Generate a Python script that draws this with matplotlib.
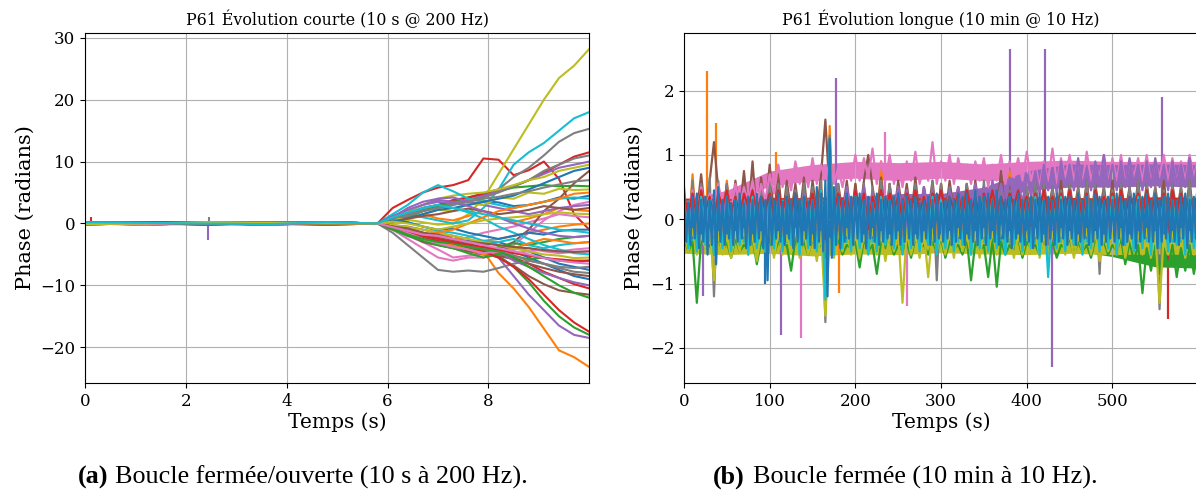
import numpy as np
import matplotlib.pyplot as plt

plt.rcParams['font.family'] = 'DejaVu Serif'

# (a) short run, 10 s @ 200 Hz : phase read at a few instants (s)
T_SHORT = [0, 1.2, 2.4, 3.6, 4.8, 5.8, 6.1, 6.4, 6.7, 7.0, 7.3, 7.6, 7.9,
           8.2, 8.5, 8.8, 9.1, 9.4, 9.7, 10.0]

PHASE_SHORT = [
    [0.1, -0.2, 0.1, 0.2, -0.1, 0, 0.5, 1.2, 2.0, 2.8, 3.2, 3.0, 3.6, 3.4, 2.8, 3.0, 3.5, 4.2, 4.0, 4.5],
    [-0.1, 0.2, 0.0, -0.2, 0.1, 0, -0.5, -1.0, -1.8, -2.2, -2.0, -3.0, -4.5, -8.0, -10.5, -13.5, -17.0, -20.5, -21.6, -23.2],
    [0.2, 0.0, -0.2, 0.1, 0.2, 0, -0.8, -1.5, -2.2, -3.0, -3.5, -3.2, -4.0, -5.2, -7.0, -9.5, -12.5, -15.0, -16.8, -18.0],
    [0.0, 0.2, 0.1, -0.1, 0.2, 0, 2.5, 3.8, 5.0, 5.8, 6.2, 7.0, 10.5, 10.3, 7.8, 8.6, 10.0, 7.2, 1.5, -1.0],
    [-0.2, 0.1, 0.2, 0.0, -0.1, 0, -0.4, -1.2, -1.8, -2.0, -2.6, -3.5, -4.0, -5.5, -8.5, -11.5, -14.0, -16.5, -18.0, -18.5],
    [0.1, 0.0, -0.1, 0.2, 0.0, 0, -0.6, -1.4, -2.0, -2.8, -3.6, -4.0, -4.8, -5.5, -6.8, -8.5, -9.8, -10.8, -11.2, -11.5],
    [0.2, -0.1, 0.0, 0.1, 0.2, 0, -0.5, -1.5, -2.0, -2.8, -3.0, -2.2, -1.5, -1.0, -0.5, 0.2, 0.8, 1.5, 1.2, 1.0],
    [-0.1, 0.1, 0.2, -0.1, 0.0, 0, 0.6, 1.5, 2.2, 2.5, 3.0, 3.8, 4.5, 5.5, 7.5, 9.0, 11.0, 13.2, 14.6, 15.3],
    [0.0, -0.2, 0.1, 0.2, -0.1, 0, 0.3, 0.6, 0.2, -0.2, 0.0, 1.5, 4.0, 8.0, 12.0, 16.0, 20.0, 23.5, 25.5, 28.2],
    [0.1, 0.2, -0.1, 0.0, 0.2, 0, 0.8, 1.5, 1.0, 0.5, 0.0, 0.5, 2.5, 5.5, 9.5, 11.5, 13.0, 15.0, 17.0, 18.0],

    [0.2, 0.0, 0.1, -0.2, 0.1, 0, -0.3, -0.8, -1.5, -2.2, -2.5, -3.0, -3.4, -3.0, -3.8, -4.5, -5.5, -6.5, -7.0, -7.5],
    [-0.1, 0.1, -0.2, 0.1, 0.0, 0, 0.5, 0.8, 1.5, 0.8, 0.5, 1.2, 2.0, 1.0, 0.2, 0.8, 1.5, 2.5, 2.2, 2.0],
    [0.0, 0.2, 0.1, 0.0, -0.2, 0, 0.3, 1.0, 2.0, 2.8, 3.5, 4.2, 4.8, 5.2, 5.8, 6.0, 6.2, 6.0, 6.1, 6.0],
    [0.2, -0.1, 0.0, 0.2, 0.1, 0, 0.5, 1.5, 2.5, 3.0, 3.8, 4.2, 4.8, 5.5, 6.0, 7.0, 8.2, 9.5, 10.8, 11.5],
    [-0.1, 0.0, 0.2, 0.1, -0.2, 0, 1.0, 2.0, 3.0, 3.5, 3.2, 3.8, 4.5, 5.2, 6.0, 7.0, 8.0, 9.0, 9.5, 10.0],
    [0.1, 0.2, -0.1, -0.2, 0.1, 0, -0.5, -1.0, -1.5, -2.2, -2.8, -3.5, -4.5, -4.0, -3.0, -1.0, 2.0, 4.0, 6.5, 8.5],
    [0.0, -0.1, 0.2, 0.1, 0.0, 0, -1.0, -2.0, -3.0, -4.2, -5.5, -5.2, -5.0, -5.0, -3.5, -1.5, 0.5, 2.0, 3.0, 3.5],
    [0.2, 0.1, 0.0, -0.1, 0.2, 0, 0.5, 1.2, 2.0, 2.5, 3.2, 3.8, 4.2, 5.0, 6.0, 7.0, 8.5, 9.5, 10.5, 11.0],
    [-0.2, 0.1, 0.1, 0.2, 0.0, 0, 0.8, 2.0, 3.0, 4.0, 4.5, 4.8, 5.0, 5.5, 6.2, 7.0, 7.5, 8.5, 9.0, 9.5],
    [0.1, -0.1, 0.0, 0.2, 0.1, 0, 1.5, 3.0, 5.0, 6.2, 5.2, 4.0, 3.5, 3.0, 2.5, 3.0, 3.5, 4.0, 4.2, 4.0],

    [0.0, 0.1, -0.2, 0.2, 0.1, 0, -0.5, -1.5, -2.5, -3.0, -3.2, -2.8, -3.0, -3.5, -4.5, -5.5, -6.5, -7.5, -8.5, -9.0],
    [0.1, 0.0, 0.2, -0.1, -0.1, 0, -0.2, -0.8, -1.5, -2.0, -2.5, -3.0, -2.8, -2.5, -2.0, -1.5, -1.0, -0.5, -0.2, 0.0],
    [-0.2, 0.2, 0.0, 0.1, 0.2, 0, -0.5, -1.2, -2.0, -3.0, -3.5, -4.0, -4.5, -3.8, -3.2, -3.5, -3.0, -2.5, -2.2, -2.0],
    [0.1, -0.2, 0.1, 0.0, 0.2, 0, -0.4, -1.0, -1.8, -2.5, -3.0, -3.5, -4.2, -4.8, -5.5, -6.5, -7.8, -8.8, -9.8, -10.5],
    [0.2, 0.1, -0.1, 0.2, 0.0, 0, 1.0, 2.5, 3.5, 4.0, 4.2, 3.5, 3.0, 2.5, 2.0, 1.5, 2.0, 2.5, 2.8, 3.0],
    [0.0, 0.2, 0.1, -0.2, 0.1, 0, -0.8, -1.8, -3.0, -3.5, -4.0, -4.5, -5.0, -5.2, -5.8, -6.5, -7.2, -7.8, -8.2, -8.5],
    [-0.1, 0.0, 0.2, 0.1, -0.1, 0, -1.0, -2.5, -4.0, -5.5, -6.0, -5.5, -5.5, -5.0, -4.8, -4.5, -4.2, -4.5, -4.2, -4.0],
    [0.2, 0.1, 0.0, 0.2, 0.1, 0, -1.5, -3.5, -5.5, -7.5, -7.8, -7.6, -7.8, -7.2, -6.5, -6.0, -6.5, -7.0, -7.2, -7.0],
    [0.0, -0.1, 0.1, 0.0, 0.2, 0, 0.8, 0.6, 1.5, 2.2, 2.0, 3.2, 3.0, 4.2, 4.0, 5.0, 4.8, 5.6, 5.4, 5.5],
    [0.1, 0.2, 0.0, -0.1, 0.1, 0, 0.5, 0.2, -0.5, -1.2, -1.5, -2.0, -2.8, -3.0, -2.5, -3.5, -4.0, -3.5, -3.2, -3.0],

    [0.2, 0.0, -0.1, 0.1, 0.2, 0, 0.2, 0.8, 1.5, 2.2, 2.5, 3.0, 3.5, 4.0, 4.5, 5.5, 6.5, 7.5, 8.5, 9.0],
    [0.0, 0.1, 0.2, -0.2, 0.0, 0, -0.6, -1.2, -2.2, -3.0, -3.5, -4.2, -5.0, -4.5, -4.0, -3.2, -2.5, -2.8, -3.2, -3.0],
    [0.1, -0.2, 0.0, 0.2, 0.1, 0, -1.0, -2.0, -2.8, -3.5, -4.0, -4.8, -5.5, -5.0, -5.2, -5.8, -5.5, -6.0, -6.2, -6.0],
    [-0.1, 0.1, 0.2, 0.0, -0.2, 0, -0.8, -1.5, -2.2, -2.8, -3.2, -3.8, -4.5, -5.5, -7.0, -9.0, -11.5, -14.0, -16.0, -17.5],
    [0.2, 0.0, 0.1, 0.1, 0.0, 0, -0.3, -0.5, -1.0, -1.5, -2.0, -2.5, -3.5, -4.5, -6.0, -7.0, -8.0, -8.8, -9.5, -10.0],
    [0.0, 0.2, -0.2, 0.1, 0.2, 0, 0.3, 0.8, 1.2, 1.5, 2.0, 2.4, 2.0, 1.5, 1.8, 2.2, 2.8, 2.5, 2.2, 2.5],
    [0.1, 0.0, 0.1, -0.1, 0.1, 0, -0.5, -1.5, -2.5, -3.2, -3.8, -4.2, -4.8, -4.5, -4.2, -4.0, -4.5, -4.8, -4.6, -4.5],
    [-0.2, 0.1, 0.0, 0.2, 0.0, 0, -0.5, -1.2, -2.0, -2.5, -3.0, -3.5, -4.0, -4.5, -5.2, -6.0, -6.5, -7.2, -7.8, -8.0],
    [0.1, 0.2, 0.1, 0.0, -0.1, 0, -0.2, -0.6, -1.0, -1.5, -2.0, -2.5, -3.0, -3.5, -4.0, -4.5, -5.0, -5.2, -5.6, -5.5],
    [0.0, -0.1, 0.2, 0.1, 0.2, 0, 0.8, 1.5, 2.5, 3.0, 2.5, 1.8, 0.8, -0.5, -1.5, -2.5, -3.5, -4.2, -4.8, -5.0],

    [0.1, 0.2, 0.0, -0.1, 0.1, 0, 0.5, 0.2, -0.5, -1.0, -0.8, -1.5, -2.0, -2.5, -2.0, -1.5, -1.8, -1.2, -1.0, -1.0],
    [0.2, -0.1, 0.1, 0.2, 0.0, 0, -0.5, -1.0, -1.8, -1.5, -1.0, 0.0, 1.0, 2.0, 2.5, 3.0, 3.5, 4.0, 4.8, 5.0],
    [0.0, 0.1, -0.1, 0.0, 0.2, 0, -0.8, -1.8, -2.5, -3.0, -3.2, -3.8, -4.2, -4.5, -5.5, -7.0, -8.5, -10.0, -11.2, -12.0],
    [-0.1, 0.2, 0.2, 0.1, 0.0, 0, -0.5, -1.2, -2.0, -2.5, -3.0, -3.4, -3.8, -4.2, -4.8, -5.2, -5.6, -5.8, -6.0, -6.0],
    [0.1, 0.0, 0.1, -0.2, 0.1, 0, 1.2, 2.2, 3.0, 3.8, 3.5, 2.8, 2.0, 1.0, 0.0, -0.8, -1.5, -2.0, -2.2, -2.0],
    [0.2, 0.1, 0.0, 0.2, -0.1, 0, -0.5, -0.8, -1.5, -1.8, -2.5, -3.0, -3.2, -3.5, -3.8, -4.0, -4.3, -4.5, -4.6, -4.5],
    [0.0, -0.2, 0.2, 0.0, 0.1, 0, -0.6, -1.2, -1.8, -2.0, -2.5, -3.0, -3.5, -4.0, -4.5, -5.0, -5.6, -6.0, -6.3, -6.5],
    [0.1, 0.1, -0.1, 0.2, 0.2, 0, 0.8, 1.5, 2.0, 2.5, 3.0, 3.5, 4.0, 4.3, 4.8, 5.2, 5.8, 6.3, 6.8, 7.0],
    [-0.1, 0.0, 0.2, 0.1, 0.0, 0, 0.3, 0.0, -0.5, -1.0, -0.5, 0.0, 0.5, 0.8, 1.0, 1.2, 1.5, 1.8, 1.6, 1.5],
    [0.2, 0.1, 0.0, -0.1, 0.2, 0, 1.0, 1.8, 2.5, 3.0, 2.5, 2.0, 1.5, 1.0, 0.5, 0.0, -0.5, -1.0, -1.2, -1.5],
]

# single-sample glitches in the short run
SHORT_SPIKE_T = [0.12, 2.44, 2.46]
SHORT_SPIKE_V = [1.0, -2.7, 1.0]
SHORT_SPIKE_COLORS = ['tab:red', 'tab:purple', 'tab:gray']

# (b) long run, 10 min @ 10 Hz : alternating max / min every 5 s (blue every 2.5 s)
LONG_BLUE = [
    0.30, -0.35, 0.25, -0.40, 0.35, -0.30, 0.40, -0.45, 0.30, -0.35, 0.35, -0.55, 0.30, -0.40, 0.45, -0.70, 0.50, -0.35, 0.30, -0.40,
    0.35, -0.30, 0.25, -0.40, 0.30, -0.35, 0.40, -0.30, 0.25, -0.45, 0.35, -0.40, 0.30, -0.35, 0.40, -0.30, 0.35, -0.45, 0.30, -0.95,
    0.35, -0.40, 0.30, -0.30, 0.40, -0.35, 0.25, -0.40, 0.35, -0.30, 0.30, -0.45, 0.40, -0.35, 0.30, -0.40, 0.35, -0.30, 0.25, -0.40,
    0.30, -0.45, 0.50, -0.35, 0.40, -0.50, 0.60, -1.20, 1.25, -0.60, 0.50, -0.40, 0.35, -0.45, 0.30, -0.35, 0.40, -0.30, 0.35, -0.40,
    0.35, -0.30, 0.40, -0.35, 0.30, -0.45, 0.35, -0.30, 0.25, -0.35, 0.40, -0.40, 0.30, -0.35, 0.35, -0.30, 0.30, -0.40, 0.35, -0.30,
    0.40, -0.40, 0.30, -0.35, 0.35, -0.30, 0.30, -0.40, 0.35, -0.30, 0.25, -0.35, 0.30, -0.30, 0.35, -0.40, 0.30, -0.35, 0.40, -0.30,
    0.25, -0.35, 0.30, -0.30, 0.35, -0.40, 0.30, -0.35, 0.40, -0.30, 0.35, -0.40, 0.40, -0.30, 0.30, -0.35, 0.45, -0.40, 0.35, -0.30,
    0.35, -0.40, 0.40, -0.30, 0.30, -0.35, 0.45, -0.40, 0.35, -0.30, 0.30, -0.35, 0.35, -0.45, 0.30, -0.30, 0.40, -0.35, 0.30, -0.40,
    0.30, -0.35, 0.35, -0.45, 0.30, -0.30, 0.40, -0.35, 0.30, -0.40, 0.35, -0.30, 0.30, -0.40, 0.40, -0.35, 0.30, -0.30, 0.35, -0.40,
    0.35, -0.30, 0.30, -0.40, 0.40, -0.35, 0.30, -0.30, 0.35, -0.40, 0.30, -0.35, 0.40, -0.30, 0.35, -0.40, 0.30, -0.35, 0.35, -0.30,
    0.30, -0.35, 0.40, -0.30, 0.35, -0.40, 0.30, -0.35, 0.35, -0.30, 0.40, -0.45, 0.30, -0.35, 0.35, -0.30, 0.40, -0.35, 0.30, -0.35,
    0.40, -0.45, 0.30, -0.35, 0.35, -0.30, 0.40, -0.35, 0.30, -0.35, 0.30, -0.40, 0.35, -0.30, 0.40, -0.45, 0.30, -0.35, 0.35, -0.30,
    0.30,
]
LONG_ORANGE = [
    0.45, -0.30, 0.70, -0.35, 0.55, -0.30, 0.40, -0.25, 0.50, -0.30,
    0.60, -0.35, 0.45, -0.30, 0.55, -0.40, 0.50, -0.30, 0.45, -0.35,
    0.55, -0.30, 0.40, -0.35, 0.50, -0.25, 0.45, -0.30, 0.55, -0.40,
    0.45, -0.30, 0.60, -1.40, 1.45, -0.35, 0.50, -0.30, 0.45, -0.35,
    0.55, -0.30, 0.50, -0.35, 0.45, -0.40, 0.90, -0.30, 0.55, -0.35,
    0.45, -0.30, 0.50, -0.35, 0.55, -0.30, 0.45, -0.40, 0.50, -0.30,
    0.55, -0.35, 0.45, -0.30, 0.50, -0.35, 0.55, -0.30, 0.45, -0.40,
    0.50, -0.30, 0.55, -0.35, 0.45, -0.30, 0.75, -0.35, 0.50, -0.30,
    0.45, -0.35, 0.55, -0.30, 0.50, -0.40, 0.45, -0.30, 0.55, -0.35,
    0.50, -0.30, 0.45, -0.35, 0.55, -0.30, 0.50, -0.40, 0.45, -0.30,
    0.55, -0.35, 0.50, -0.30, 0.45, -0.35, 0.55, -0.30, 0.50, -0.40,
    0.45, -0.30, 0.55, -0.35, 0.50, -0.30, 0.45, -0.40, 0.55, -0.30, 0.50,
]
LONG_GREEN = [
    -0.30, -0.50, -0.35, -1.30, -0.30, -0.45, -0.40, -0.55, -0.30, -0.50,
    -0.35, -0.60, -0.30, -0.50, -0.40, -0.45, -0.30, -0.70, -0.35, -0.50,
    -0.30, -0.55, -0.35, -0.45, -0.40, -0.80, -0.30, -0.50, -0.35, -0.55,
    -0.30, -0.45, -0.40, -0.60, -0.35, -0.50, -0.30, -0.55, -0.40, -0.45,
    -0.35, -0.75, -0.30, -0.50, -0.40, -0.85, -0.35, -0.45, -0.30, -0.55,
    -0.40, -0.50, -0.35, -0.60, -0.30, -0.45, -0.40, -0.55, -0.35, -0.50,
    -0.30, -0.60, -0.35, -0.45, -0.40, -0.55, -0.30, -0.95, -0.35, -0.50,
    -0.40, -0.90, -0.30, -1.05, -0.35, -0.55, -0.40, -0.50, -0.30, -0.60,
    -0.35, -0.45, -0.40, -0.55, -0.30, -0.50, -0.35, -0.60, -0.40, -0.45,
    -0.30, -0.55, -0.35, -0.50, -0.40, -0.60, -0.30, -0.45, -0.35, -0.55,
    -0.40, -0.50, -0.30, -0.70, -0.35, -0.65, -0.40, -1.15, -0.45, -0.80,
    -0.40, -0.85, -0.45, -0.75, -0.40, -0.90, -0.45, -0.80, -0.40, -0.85, -0.50,
]
LONG_RED = [
    0.35, 0.10, 0.40, 0.05, 0.45, 0.15, 0.35, 0.00, 0.40, 0.20,
    0.45, 0.10, 0.35, 0.05, 0.40, 0.20, 0.45, 0.10, 0.35, 0.15,
    0.40, 0.05, 0.45, 0.15, 0.35, 0.10, 0.40, -0.10, 0.35, 0.15,
    0.40, 0.05, 0.45, -0.30, 0.50, 0.10, 0.40, 0.15, 0.35, 0.05,
    0.45, 0.10, 0.40, -0.15, 0.35, 0.10, 0.45, 0.05, 0.40, 0.15,
    0.35, 0.00, 0.40, 0.15, 0.45, 0.10, 0.35, 0.05, 0.40, 0.20,
    0.45, 0.10, 0.35, 0.15, 0.40, 0.05, 0.45, 0.10, 0.35, 0.00,
    0.40, 0.15, 0.45, 0.05, 0.35, 0.10, 0.40, 0.20, 0.45, 0.10,
    0.35, -0.10, 0.40, 0.15, 0.45, 0.05, 0.35, 0.10, 0.40, 0.15,
    0.45, 0.10, 0.35, 0.05, 0.40, -0.50, 0.45, 0.15, 0.35, 0.10,
    0.40, 0.05, 0.45, 0.10, 0.35, 0.20, 0.40, 0.05, 0.45, 0.10,
    0.35, 0.15, 0.40, -0.20, 0.45, 0.10, 0.40, 0.05, 0.35, 0.10, 0.40,
]
LONG_PURPLE = [
    0.30, -0.10, 0.35, 0.05, 0.40, -0.05, 0.30, 0.10, 0.35, 0.00,
    0.40, -0.05, 0.30, 0.05, 0.35, -0.10, 0.40, 0.05, 0.30, 0.00,
    0.35, -0.05, 0.40, 0.10, 0.35, 0.00, 0.30, -0.10, 0.40, 0.05,
    0.35, 0.00, 0.30, 0.10, 0.45, 0.05, 0.40, 0.10, 0.50, 0.15,
    0.45, 0.10, 0.50, 0.15, 0.40, 0.05, 0.45, 0.10, 0.40, 0.15,
    0.50, 0.10, 0.45, 0.05, 0.40, 0.10, 0.50, 0.15, 0.45, 0.10,
    0.40, 0.05, 0.45, 0.15, 0.50, 0.10, 0.40, 0.20, 0.55, 0.15,
    0.50, 0.20, 0.60, 0.25, 0.55, 0.20, 0.65, 0.30, 0.60, 0.25,
    0.70, 0.35, 0.75, 0.40, 0.85, 0.45, 0.80, 0.40, 0.90, 0.50,
    0.85, 0.45, 0.95, 0.50, 0.80, 0.45, 0.90, 0.55, 1.00, 0.50,
    0.85, 0.45, 0.90, 0.50, 0.95, 0.55, 0.85, 0.45, 0.90, 0.50,
    0.95, 0.50, 0.85, 0.45, 0.90, 0.55, 0.85, 0.50, 0.95, 0.55, 0.90,
]
LONG_BROWN = [
    0.40, 0.00, 0.50, 0.10, 0.70, 0.05, 0.60, 1.20, 0.45, 0.05,
    0.55, 0.00, 0.60, 0.10, 0.75, 0.05, 0.90, 0.00, 0.65, 0.10,
    0.85, 0.05, 0.70, 0.00, 0.60, 0.10, 0.55, 0.05, 0.65, 0.00,
    0.60, 0.10, 0.70, 1.55, 0.40, 0.05, 0.55, 0.10, 0.60, 0.00,
    0.55, 0.05, 0.60, 1.00, 0.50, 0.10, 0.65, 0.00, 0.55, 0.05,
    0.60, 0.10, 0.55, 0.00, 0.65, 0.05, 0.50, 0.10, 0.60, 0.00,
    0.55, 0.05, 0.60, 0.10, 0.50, 0.00, 0.55, 0.05, 0.60, 0.10,
    0.50, 0.00, 0.55, 0.10, 0.75, 0.05, 0.60, 0.00, 0.55, 0.10,
    0.50, 0.05, 0.60, 0.00, 0.55, 0.10, 0.50, 0.05, 0.60, 0.00,
    0.55, 0.10, 0.50, 0.05, 0.60, 0.00, 0.55, 0.10, 0.50, 0.05,
    0.60, 0.00, 0.55, 0.10, 0.50, 0.05, 0.60, 0.00, 0.55, 0.10,
    0.50, 0.05, 0.60, 0.00, 0.55, 0.10, 0.50, 0.05, 0.60, 0.00, 0.55,
]
LONG_PINK = [
    0.35, 0.10, 0.45, 0.05, 0.50, 0.15, 0.40, 0.10, 0.55, 0.20,
    0.45, 0.15, 0.55, 0.20, 0.50, 0.25, 0.60, 0.20, 0.55, 0.30,
    0.70, 0.40, 0.85, 0.50, 0.75, 0.45, 0.90, 0.55, 0.80, 0.50,
    0.95, 0.55, 0.85, 0.60, 0.90, 0.55, 0.80, 0.50, 0.85, 0.60,
    1.00, 0.60, 0.95, 0.65, 1.10, 0.55, 0.90, 0.60, 1.00, 0.55,
    0.85, 0.50, 0.90, 0.60, 1.05, 0.55, 0.85, 0.60, 1.20, 0.55,
    0.90, 0.60, 1.00, 0.55, 0.95, 0.65, 0.85, 0.55, 0.90, 0.60,
    0.95, 0.50, 0.85, 0.60, 1.00, 0.55, 0.90, 0.65, 0.95, 0.60,
    1.05, 0.60, 0.85, 0.50, 0.90, 0.60, 1.10, 0.55, 0.95, 0.65,
    1.00, 0.60, 0.90, 0.55, 1.05, 0.60, 0.85, 0.65, 1.00, 0.55,
    0.95, 0.60, 1.00, 0.55, 0.90, 0.65, 0.95, 0.60, 1.00, 0.55,
    0.90, 0.65, 1.00, 0.60, 0.95, 0.55, 0.90, 0.60, 1.00, 0.65, 0.95,
]
LONG_GRAY = [
    0.50, -0.30, 0.60, -0.40, 0.55, -0.25, 0.65, -1.20, 0.60, -0.30,
    0.55, -0.35, 0.50, -0.30, 0.45, -0.40, 0.55, -0.30, 0.50, -0.35,
    0.60, -0.30, 0.55, -0.40, 0.50, -0.25, 0.45, -0.35, 0.55, -0.30,
    0.50, -0.40, 0.60, -1.60, 1.30, -0.35, 0.55, -0.30, 0.50, -0.40,
    0.45, -0.30, 0.55, -0.35, 0.50, -0.40, 0.60, -0.30, 0.55, -0.35,
    0.50, -0.30, 0.45, -0.40, 0.55, -0.35, 0.50, -0.30, 0.60, -0.95,
    0.55, -0.35, 0.50, -0.30, 0.45, -0.40, 0.55, -0.30, 0.50, -0.35,
    0.60, -0.30, 0.55, -0.40, 0.50, -0.35, 0.45, -0.30, 0.55, -0.40,
    0.50, -0.30, 0.60, -0.35, 0.55, -0.40, 0.50, -0.30, 0.45, -0.35,
    0.55, -0.40, 0.50, -0.30, 0.60, -0.35, 0.55, -0.85, 0.50, -0.30,
    0.45, -0.35, 0.55, -0.40, 0.50, -0.30, 0.60, -0.35, 0.55, -0.30,
    0.50, -1.40, 0.45, -0.35, 0.55, -0.30, 0.50, -0.40, 0.60, -0.35, 0.50,
]
LONG_OLIVE = [
    -0.20, -0.50, -0.15, -0.55, -0.25, -0.45, -0.15, -0.95, -0.20, -0.55,
    -0.25, -0.60, -0.20, -0.50, -0.15, -0.55, -0.25, -0.65, -0.20, -0.50,
    -0.15, -0.60, -0.20, -0.55, -0.25, -0.50, -0.15, -0.60, -0.20, -0.55,
    -0.25, -0.65, -0.20, -1.50, -0.30, -0.60, -0.20, -0.50, -0.15, -0.55,
    -0.20, -0.60, -0.25, -0.50, -0.15, -0.55, -0.20, -0.65, -0.25, -0.50,
    -0.20, -1.30, -0.15, -0.55, -0.25, -0.60, -0.20, -0.90, -0.15, -0.50,
    -0.25, -0.55, -0.20, -0.60, -0.15, -0.50, -0.25, -0.55, -0.20, -0.60,
    -0.15, -0.50, -0.20, -0.55, -0.10, -0.50, -0.20, -0.60, -0.25, -0.55,
    -0.20, -0.50, -0.15, -0.60, -0.25, -0.55, -0.20, -0.50, -0.15, -0.55,
    -0.20, -0.60, -0.25, -0.50, -0.15, -0.55, -0.20, -0.65, -0.25, -0.50,
    -0.20, -0.55, -0.15, -0.60, -0.25, -0.50, -0.20, -0.55, -0.15, -0.60,
    -0.20, -1.30, -0.25, -0.55, -0.20, -0.50, -0.15, -0.60, -0.20, -0.55, -0.25,
]
LONG_CYAN = [
    0.30, -0.45, 0.25, -0.50, 0.35, -0.40, 0.30, -0.55, 0.25, -0.45,
    0.35, -0.50, 0.30, -0.40, 0.25, -0.55, 0.35, -0.45, 0.30, -0.50,
    0.25, -0.45, 0.35, -0.50, 0.30, -0.40, 0.25, -0.55, 0.35, -0.45,
    0.30, -0.50, 0.45, -1.25, 1.20, -0.55, 0.30, -0.45, 0.25, -0.50,
    0.35, -0.45, 0.30, -0.55, 0.25, -0.50, 0.35, -0.40, 0.30, -0.45,
    0.25, -0.55, 0.35, -0.45, 0.30, -0.50, 0.25, -0.40, 0.35, -0.55,
    0.30, -0.45, 0.25, -0.50, 0.35, -0.40, 0.30, -0.55, 0.25, -0.45,
    0.35, -0.50, 0.30, -0.45, 0.25, -0.55, 0.35, -0.40, 0.30, -0.50,
    0.25, -0.45, 0.35, -0.55, 0.30, -0.90, 0.25, -0.45, 0.35, -0.50,
    0.30, -0.40, 0.25, -0.55, 0.35, -0.45, 0.30, -0.50, 0.25, -0.45,
    0.35, -0.55, 0.30, -0.40, 0.25, -0.50, 0.35, -0.45, 0.30, -0.55,
    0.25, -0.45, 0.35, -0.50, 0.30, -0.40, 0.25, -0.55, 0.35, -0.45, 0.30,
]

# dense core of each trace (where the 10 Hz samples fill the band), every 50 s
T_CORE = [0, 50, 100, 150, 200, 250, 300, 350, 400, 450, 500, 550, 600]
BLUE_CORE_HI = [0.28, 0.27, 0.29, 0.30, 0.28, 0.29, 0.27, 0.30, 0.28, 0.29, 0.28, 0.30, 0.28]
BLUE_CORE_LO = [-0.30, -0.29, -0.31, -0.33, -0.29, -0.30, -0.29, -0.30, -0.31, -0.29, -0.30, -0.29, -0.30]
CYAN_CORE_HI = [0.30, 0.29, 0.31, 0.32, 0.30, 0.30, 0.29, 0.31, 0.30, 0.30, 0.29, 0.31, 0.30]
CYAN_CORE_LO = [-0.35, -0.36, -0.35, -0.38, -0.35, -0.36, -0.35, -0.36, -0.37, -0.35, -0.36, -0.35, -0.36]
OLIVE_CORE_HI = [-0.24, -0.24, -0.23, -0.25, -0.24, -0.23, -0.24, -0.22, -0.24, -0.23, -0.24, -0.23, -0.24]
OLIVE_CORE_LO = [-0.53, -0.55, -0.53, -0.57, -0.54, -0.55, -0.52, -0.54, -0.55, -0.53, -0.55, -0.54, -0.55]
GREEN_CORE_HI = [-0.32, -0.33, -0.32, -0.34, -0.33, -0.32, -0.33, -0.34, -0.33, -0.32, -0.36, -0.42, -0.44]
GREEN_CORE_LO = [-0.48, -0.49, -0.48, -0.50, -0.49, -0.48, -0.49, -0.50, -0.49, -0.48, -0.58, -0.74, -0.76]
RED_CORE_HI = [0.33, 0.32, 0.34, 0.33, 0.35, 0.33, 0.34, 0.33, 0.35, 0.34, 0.33, 0.35, 0.34]
RED_CORE_LO = [0.05, 0.08, 0.05, 0.06, 0.05, 0.07, 0.05, 0.06, 0.05, 0.07, 0.05, 0.06, 0.05]
PINK_CORE_HI = [0.30, 0.45, 0.75, 0.85, 0.90, 0.88, 0.90, 0.86, 0.90, 0.92, 0.90, 0.90, 0.90]
PINK_CORE_LO = [0.10, 0.20, 0.52, 0.60, 0.64, 0.60, 0.64, 0.60, 0.62, 0.64, 0.62, 0.64, 0.65]
PURPLE_CORE_HI = [0.25, 0.25, 0.30, 0.35, 0.35, 0.40, 0.40, 0.50, 0.75, 0.86, 0.85, 0.86, 0.85]
PURPLE_CORE_LO = [0.00, 0.00, 0.05, 0.05, 0.10, 0.10, 0.10, 0.20, 0.45, 0.50, 0.50, 0.52, 0.50]

# isolated glitches in the long run (time s, peak rad)
LONG_SPIKE_T = [27, 37, 22, 113, 137, 177, 181, 380, 421, 429, 558, 565, 107, 95, 260, 235]
LONG_SPIKE_V = [2.3, 1.5, -1.2, -1.8, -1.85, 2.2, -1.15, 2.65, 2.65, -2.3, 1.9, -1.55, 1.05, -1.0, -1.35, 1.35]
LONG_SPIKE_COLORS = ['tab:orange', 'tab:orange', 'tab:purple', 'tab:purple', 'tab:pink',
                     'tab:purple', 'tab:orange', 'tab:purple', 'tab:purple', 'tab:purple',
                     'tab:purple', 'tab:red', 'tab:orange', 'tab:blue', 'tab:pink', 'tab:pink']

LONG_SERIES = [
    (LONG_ORANGE, None, None, 'tab:orange'),
    (LONG_BROWN, None, None, 'tab:brown'),
    (LONG_GRAY, None, None, 'tab:gray'),
    (LONG_PINK, PINK_CORE_HI, PINK_CORE_LO, 'tab:pink'),
    (LONG_PURPLE, PURPLE_CORE_HI, PURPLE_CORE_LO, 'tab:purple'),
    (LONG_GREEN, GREEN_CORE_HI, GREEN_CORE_LO, 'tab:green'),
    (LONG_RED, RED_CORE_HI, RED_CORE_LO, 'tab:red'),
    (LONG_OLIVE, OLIVE_CORE_HI, OLIVE_CORE_LO, 'tab:olive'),
    (LONG_CYAN, CYAN_CORE_HI, CYAN_CORE_LO, 'tab:cyan'),
    (LONG_BLUE, BLUE_CORE_HI, BLUE_CORE_LO, 'tab:blue'),
]

fig = plt.figure(figsize=(11.96, 4.94), dpi=100)
ax1 = fig.add_axes([0.0711, 0.2247, 0.4214, 0.7085])
ax2 = fig.add_axes([0.5719, 0.2247, 0.4298, 0.7085])

# short run
ax1.vlines(SHORT_SPIKE_T, 0, SHORT_SPIKE_V, colors=SHORT_SPIKE_COLORS, lw=1.5)
for y in PHASE_SHORT:
    ax1.plot(T_SHORT, y, lw=1.5)
ax1.set_xlim(0, 9.995)
ax1.grid(True)
ax1.set_title('P61 Évolution courte (10 s @ 200 Hz)', fontsize=11.4)
ax1.set_xlabel('Temps (s)', fontsize=14.5, labelpad=2)
ax1.set_ylabel('Phase (radians)', fontsize=15, labelpad=4)
ax1.tick_params(labelsize=12)

# long run
ax2.vlines(LONG_SPIKE_T, 0, LONG_SPIKE_V, colors=LONG_SPIKE_COLORS, lw=1.6)
for y, hi, lo, c in LONG_SERIES:
    if hi is not None:
        ax2.fill_between(T_CORE, lo, hi, color=c, lw=0)
    t = np.linspace(0, 600, len(y))
    ax2.plot(t, y, color=c, lw=1.6)
ax2.set_xlim(0, 599.9)
ax2.grid(True)
ax2.set_title('P61 Évolution longue (10 min @ 10 Hz)', fontsize=11.4)
ax2.set_xlabel('Temps (s)', fontsize=14.5, labelpad=2)
ax2.set_ylabel('Phase (radians)', fontsize=15, labelpad=4)
ax2.tick_params(labelsize=12)

# sub-captions
cap = dict(family='Liberation Serif', fontsize=18.8, va='center')
fig.text(108 / 1196, 0.034, '(a)', fontweight='bold', ha='right', **cap)
fig.text(115 / 1196, 0.034, 'Boucle fermée/ouverte (10 s à 200 Hz).', ha='left', **cap)
fig.text(745 / 1196, 0.034, '(b)', fontweight='bold', ha='right', **cap)
fig.text(753 / 1196, 0.034, 'Boucle fermée (10 min à 10 Hz).', ha='left', **cap)

fig.savefig('out.png', dpi=100)
